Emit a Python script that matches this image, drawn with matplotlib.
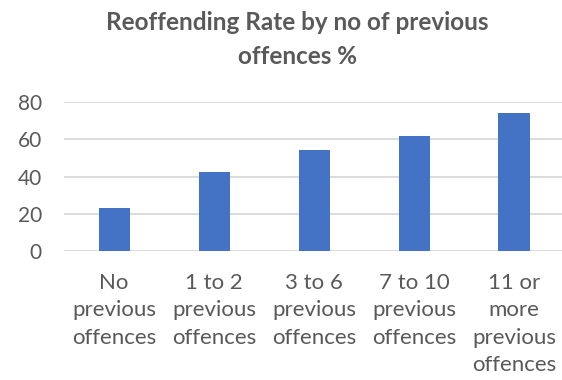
import matplotlib
matplotlib.use('Agg')
import matplotlib.pyplot as plt
import numpy as np

# data
categories = ['No\nprevious\noffences', '1 to 2\nprevious\noffences', '3 to 6\nprevious\noffences',
              '7 to 10\nprevious\noffences', '11 or\nmore\nprevious\noffences']
rates = [23, 42.5, 54.5, 62, 74.5]
yticks = [0, 20, 40, 60, 80]

plt.rcParams['font.family'] = ['Lato', 'DejaVu Sans']
grey = '#595959'

fig = plt.figure(figsize=(5.62, 3.8), dpi=100)
ax = fig.add_axes([64/562, 1-251/380, 1-64/562, (251-102.3)/380])

x = np.arange(len(categories))
ax.bar(x, rates, width=0.31, color='#4472C4', zorder=3)

ax.set_xlim(-0.5, 4.48)
ax.set_ylim(0, 80)
ax.set_yticks(yticks)
ax.set_yticklabels([str(t) for t in yticks], fontsize=15, color=grey)
ax.set_xticks(x)
ax.set_xticklabels(categories, fontsize=16, color=grey, linespacing=1.45)
ax.tick_params(axis='both', length=0)
ax.tick_params(axis='y', pad=16)
ax.tick_params(axis='x', pad=16)

ax.grid(axis='y', color='#D9D9D9', linewidth=1.3, zorder=0)
for s in ax.spines.values():
    s.set_visible(False)

fig.text(297/562, 1-11/380, 'Reoffending Rate by no of previous\noffences %', ha='center', va='top',
         fontsize=17.5, fontweight='bold', color=grey, linespacing=1.6)

fig.savefig('out.png', dpi=100)
